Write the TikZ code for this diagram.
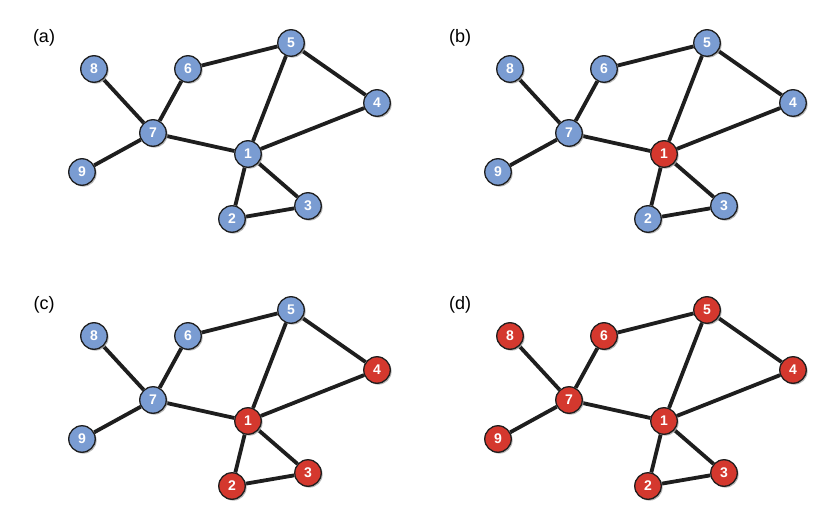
\documentclass[tikz,border=0pt]{standalone}
\usepackage{fontspec}
\setmainfont{Liberation Sans}
\usetikzlibrary{shadows,backgrounds}

\definecolor{nblue}{RGB}{122,156,210}
\definecolor{nred}{RGB}{212,56,46}
\definecolor{nline}{RGB}{30,30,30}

\tikzset{
  vtx/.style={circle, draw=nline, line width=1.3pt, minimum size=26.5pt, inner sep=0pt,
    text=white, font=\fontsize{14}{14}\selectfont\bfseries,
    drop shadow={shadow xshift=1.4pt, shadow yshift=-1.4pt, fill=black!35, opacity=0.8}},
  edge/.style={line width=3.8pt, draw=nline},
  lab/.style={font=\fontsize{18}{18}\selectfont, inner sep=0pt}
}

\begin{document}
\begin{tikzpicture}[x=1pt, y=-1pt]
  \useasboundingbox (0,0) rectangle (819,513);
  \foreach \p/\sx/\sy/\cols in {%
      a/0/0/{nblue,nblue,nblue,nblue,nblue,nblue,nblue,nblue,nblue},%
      b/416/0/{nred,nblue,nblue,nblue,nblue,nblue,nblue,nblue,nblue},%
      c/0/267/{nred,nred,nred,nred,nblue,nblue,nblue,nblue,nblue},%
      d/416/267/{nred,nred,nred,nred,nred,nred,nred,nred,nred}} {
    \begin{scope}[shift={(\sx,\sy)}]
      \node[lab] (lab\p) at (44,38) {(\p)}; % panel label
      % vertex positions
      \coordinate (p1) at (248,154);
      \coordinate (p2) at (232,219);
      \coordinate (p3) at (308,206);
      \coordinate (p4) at (377,103);
      \coordinate (p5) at (291,43);
      \coordinate (p6) at (188,69);
      \coordinate (p7) at (153,133);
      \coordinate (p8) at (94,69);
      \coordinate (p9) at (82,172);
      \foreach [count=\i] \c in \cols
        \node[vtx, fill=\c] (\p\i) at (p\i) {\i};
      \begin{pgfonlayer}{background}
        \foreach \u/\v in {1/2,1/3,2/3,1/4,1/5,4/5,5/6,6/7,7/1,7/8,7/9}
          \draw[edge] (\p\u) -- (\p\v); % edges
      \end{pgfonlayer}
    \end{scope}
  }
\end{tikzpicture}
\end{document}
